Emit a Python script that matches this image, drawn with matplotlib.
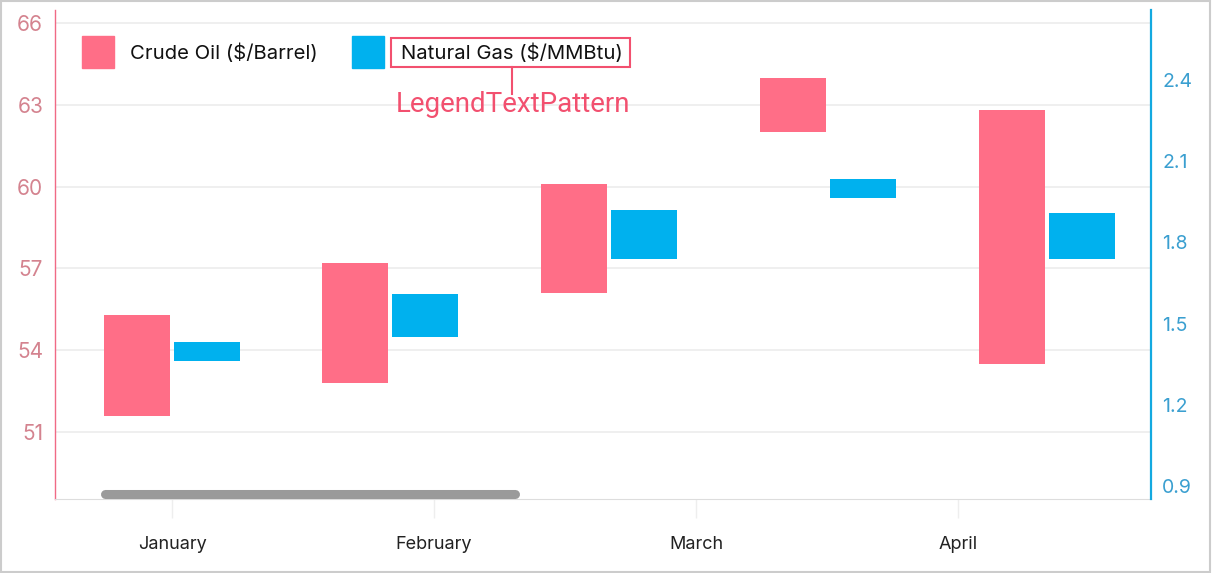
import numpy as np
import matplotlib.pyplot as plt
from matplotlib.patches import Rectangle

plt.rcParams['font.family'] = ['Inter', 'DejaVu Sans']

# x positions are in "month index" units (0 = January)
months = ['January', 'February', 'March', 'April']
x_vals = [0.0, 0.832, 1.668, 2.504, 3.340]

crude_low = [51.6, 52.8, 56.1, 62.0, 53.5]
crude_high = [55.3, 57.2, 60.1, 64.0, 62.8]
gas_low = [1.36, 1.45, 1.74, 1.965, 1.74]
gas_high = [1.43, 1.61, 1.92, 2.035, 1.91]

left_ticks = [51, 54, 57, 60, 63, 66]
right_ticks = [0.9, 1.2, 1.5, 1.8, 2.1, 2.4]

CRUDE = '#FF6E87'
GAS = '#00B1EE'

W, H = 1212, 573
fig = plt.figure(figsize=(W / 100, H / 100), dpi=100)


def fx(px):
    return px / W


def fy(py):
    return 1 - py / H


ax = fig.add_axes([fx(55), fy(499), fx(1151) - fx(55), fy(10) - fy(499)])
ax2 = ax.twinx()

x = np.array(x_vals)
bw = 0.252
off = 0.134

ax.bar(x - off, np.array(crude_high) - np.array(crude_low),
       bottom=crude_low, width=bw, color=CRUDE, zorder=3)
ax2.bar(x + off, np.array(gas_high) - np.array(gas_low),
        bottom=gas_low, width=bw, color=GAS, zorder=3)

ax.set_xlim(-0.447, 3.737)
ax.set_ylim(48.54, 66.48)
ax2.set_ylim(0.852, 2.658)

ax.set_yticks(left_ticks)
ax.set_yticklabels([str(t) for t in left_ticks])
ax2.set_yticks(right_ticks)
ax2.set_yticklabels(['%.1f' % t for t in right_ticks])

ax.set_xticks(range(len(months)))
ax.set_xticklabels(months)

ax.tick_params(axis='y', length=0, pad=8.5, labelsize=15, labelcolor='#D4838F')
ax2.tick_params(axis='y', length=0, pad=8, labelsize=14, labelcolor='#3A9FD0')
ax.tick_params(axis='x', length=14, width=1, color='#EEEEEE', pad=12.5,
               labelsize=13, labelcolor='#222222')

ax.grid(axis='y', color='#EEEEEE', linewidth=1.3, zorder=0)
ax.set_axisbelow(True)

for s in ['top', 'right']:
    ax.spines[s].set_visible(False)
ax.spines['left'].set_color('#F06A85')
ax.spines['left'].set_linewidth(1.0)
ax.spines['bottom'].set_color('#DDDDDD')
for s in ['top', 'left', 'bottom']:
    ax2.spines[s].set_visible(False)
ax2.spines['right'].set_color('#14A9E0')
ax2.spines['right'].set_linewidth(1.6)

# scroll indicator
fig.add_artist(plt.Line2D([fx(105), fx(515)], [fy(494), fy(494)],
                          color='#9A9A9A', linewidth=6.5,
                          solid_capstyle='round'))

# legend
fig.add_artist(Rectangle((fx(82), fy(68)), fx(32), fy(36) - fy(68),
                         color=CRUDE, transform=fig.transFigure))
fig.text(fx(130), fy(59), 'Crude Oil ($/Barrel)', fontsize=14.6,
         va='baseline', ha='left', color='#111111')
fig.add_artist(Rectangle((fx(352), fy(68)), fx(32), fy(36) - fy(68),
                         color=GAS, transform=fig.transFigure))
fig.text(fx(401), fy(59), 'Natural Gas ($/MMBtu)', fontsize=14.6,
         va='baseline', ha='left', color='#111111')

# annotation around the second legend label
PINK = '#F2506F'
fig.add_artist(Rectangle((fx(391), fy(67)), fx(239), fy(38) - fy(67),
                         fill=False, edgecolor=PINK, linewidth=1.5,
                         transform=fig.transFigure))
fig.add_artist(plt.Line2D([fx(512), fx(512)], [fy(67), fy(94)],
                          color=PINK, linewidth=1.5))
fig.text(fx(513), fy(104), 'LegendTextPattern', fontsize=20,
         va='center', ha='center', color=PINK, family='Roboto')

# outer frame
fig.add_artist(Rectangle((0.0005, 0.001), 0.998, 0.997, fill=False,
                         edgecolor='#CCCCCC', linewidth=1.5,
                         transform=fig.transFigure))

fig.savefig('out.png', dpi=100)
